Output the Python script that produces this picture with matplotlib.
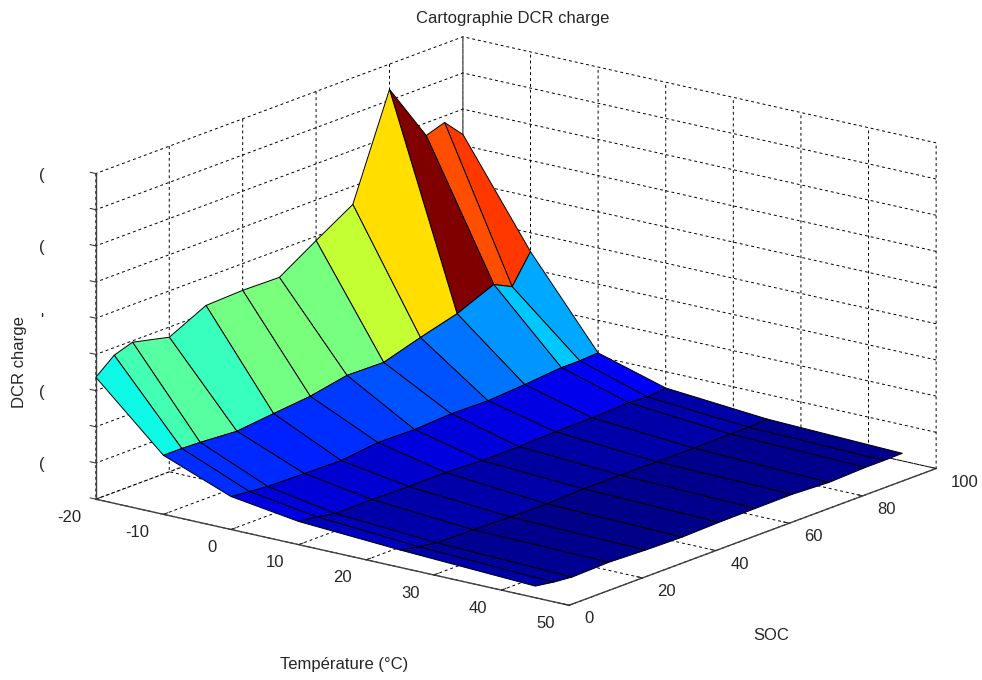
import numpy as np
import matplotlib
matplotlib.use("Agg")
import matplotlib.pyplot as plt

plt.rcParams['font.family'] = ['Liberation Sans', 'DejaVu Sans']
plt.rcParams['axes.unicode_minus'] = False
plt.rcParams['grid.color'] = 'black'
plt.rcParams['grid.linestyle'] = (0, (3, 3))
plt.rcParams['grid.linewidth'] = 0.7

temperature = [-20, -10, 0, 10, 25, 45]
soc = [0, 5, 10, 20, 30, 40, 50, 60, 70, 80, 90, 95, 100]
dcr_m20 = [.337, .379, .396, .372, .422, .426, .424, .488, .550, .830, .665, .682, .630]
dcr_m10 = [.163, .163, .161, .154, .165, .175, .195, .193, .224, .252, .295, .270, .348]
dcr_0 = [.091, .086, .081, .079, .077, .089, .087, .093, .091, .098, .107, .107, .110]
dcr_10 = [.064, .058, .048, .049, .047, .048, .043, .044, .047, .048, .052, .049, .055]
dcr_25 = [.048, .038, .030, .028, .026, .024, .028, .028, .027, .027, .028, .028, .032]
dcr_45 = [.032, .024, .019, .022, .018, .016, .019, .020, .021, .016, .020, .020, .021]

x_ticks = [-20, -10, 0, 10, 20, 30, 40, 50]
y_ticks = [0, 20, 40, 60, 80, 100]
z_ticks = [0, .1, .2, .3, .4, .5, .6, .7, .8, .9]
z_labels = ['', '(', '', '(', '', "'", '', '(', '', '(']

# value -> position on the jet colour scale
color_z = [.016, .337, .550, .682, .830]
color_n = [0.0, .37, .675, .85, 1.0]

W, H = 982, 680
FS = 12
TXT = '#262626'
fig = plt.figure(figsize=(W / 100, H / 100), dpi=100, facecolor='white')
ax = fig.add_axes([166.8 / W, 9.8 / H, 680 / W, 680 / H], projection='3d')
ax.set_proj_type('ortho')
ax.view_init(elev=16.8, azim=-52.2)
ax.set_box_aspect((1, 1, 0.568), zoom=1.303)
ax.patch.set_alpha(0)

T, S = np.meshgrid(temperature, soc, indexing='ij')
Z = np.array([dcr_m20, dcr_m10, dcr_0, dcr_10, dcr_25, dcr_45])
colors = plt.cm.jet(np.interp(Z, color_z, color_n))
surf = ax.plot_surface(T, S, Z, facecolors=colors, rstride=1, cstride=1, shade=False,
                       edgecolor='black', linewidth=0.7, antialiased=True)
surf.set_clip_on(False)

ax.set_xlim(-20, 50)
ax.set_ylim(0, 100)
ax.set_zlim(0, 0.9)
ax.set_xticks(x_ticks)
ax.set_yticks(y_ticks)
ax.set_zticks(z_ticks)
ax.set_zticklabels(z_labels)
ax.tick_params(axis='both', labelsize=FS, colors=TXT)
ax.tick_params(axis='x', pad=2)
ax.tick_params(axis='y', pad=0)
ax.tick_params(axis='z', pad=8.5)
for lab in ax.get_xticklabels():
    lab.set_ha('right')
    lab.set_va('center')
for lab in ax.get_yticklabels():
    lab.set_ha('left')
    lab.set_va('center')
for lab in ax.get_zticklabels():
    lab.set_va('center')

for axis in (ax.xaxis, ax.yaxis, ax.zaxis):
    axis.set_pane_color((1, 1, 1, 1))
    axis.pane.set_edgecolor('none')
    axis.line.set_color('#404040')
    axis.line.set_linewidth(1.0)
    axis._axinfo['tick']['inward_factor'] = 0.0
    axis._axinfo['tick']['outward_factor'] = 0.15
    axis._axinfo['tick']['linewidth'] = {True: 0.7, False: 0.5}
ax.zaxis._axinfo['juggled'] = (1, 2, 0)

fig.text(513 / W, 1 - 18 / H, 'Cartographie DCR charge', ha='center', va='center',
         fontsize=FS, color=TXT)
fig.text(344 / W, 1 - 665 / H, 'Température (°C)', ha='center', va='center',
         fontsize=FS, color=TXT)
fig.text(771 / W, 1 - 635 / H, 'SOC', ha='center', va='center',
         fontsize=FS, color=TXT)
fig.text(20 / W, 1 - 362 / H, 'DCR charge', ha='center', va='center', rotation=90,
         fontsize=FS, color=TXT)

fig.savefig('out.png', dpi=100)
